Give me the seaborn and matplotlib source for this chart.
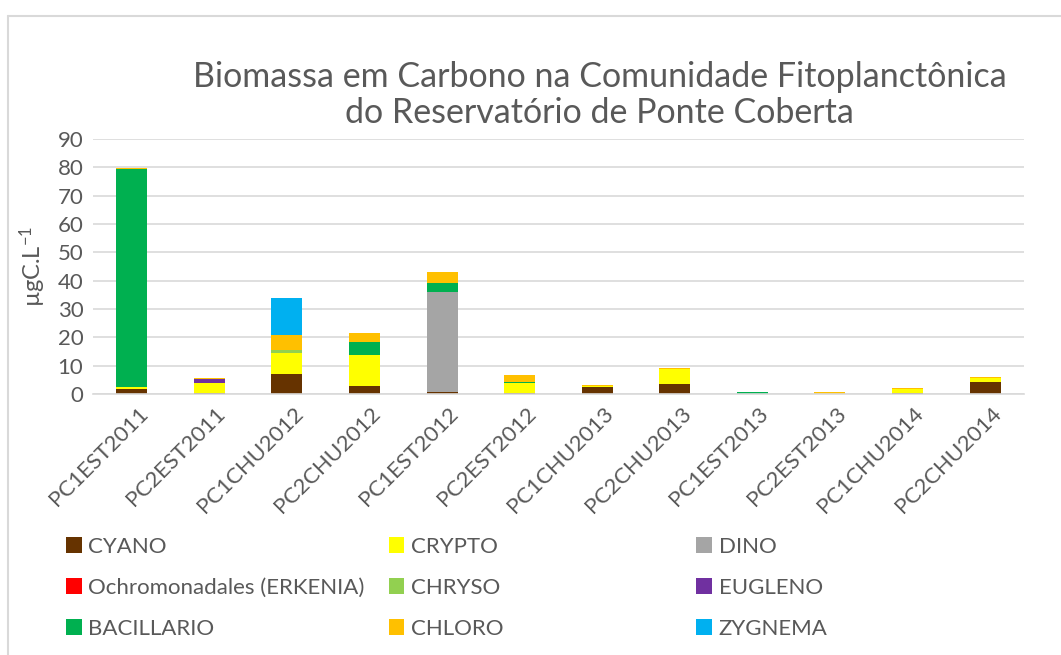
import numpy as np
import pandas as pd
import matplotlib
matplotlib.use("Agg")
import matplotlib.pyplot as plt
import matplotlib.transforms as mtransforms
import seaborn as sns
from matplotlib.patches import Patch
from matplotlib.lines import Line2D

samples = ["PC1EST2011", "PC2EST2011", "PC1CHU2012", "PC2CHU2012", "PC1EST2012", "PC2EST2012",
           "PC1CHU2013", "PC2CHU2013", "PC1EST2013", "PC2EST2013", "PC1CHU2014", "PC2CHU2014"]
groups = ["CYANO", "CRYPTO", "DINO", "Ochromonadales (ERKENIA)", "CHRYSO", "EUGLENO",
          "BACILLARIO", "CHLORO", "ZYGNEMA"]
colors = ["#663300", "#FFFF00", "#A5A5A5", "#FF0000", "#92D050", "#7030A0",
          "#00B050", "#FFC000", "#00B0F0"]

cyano = [1.7, 0.5, 7.2, 2.7, 0.8, 0.2, 2.6, 3.5, 0.0, 0.0, 0.5, 4.3]
crypto = [0.7, 3.3, 7.3, 11.0, 0.0, 3.6, 0.3, 5.3, 0.0, 0.0, 1.1, 1.4]
dino = [0.0, 0.0, 0.0, 0.0, 35.3, 0.0, 0.0, 0.0, 0.0, 0.0, 0.0, 0.0]
ochro = [0.0, 0.0, 0.0, 0.0, 0.0, 0.0, 0.0, 0.0, 0.0, 0.0, 0.0, 0.0]
chryso = [0.0, 0.0, 0.9, 0.0, 0.0, 0.0, 0.0, 0.0, 0.0, 0.0, 0.0, 0.0]
eugleno = [0.0, 1.5, 0.0, 0.0, 0.0, 0.0, 0.0, 0.0, 0.0, 0.0, 0.0, 0.0]
bacillario = [76.9, 0.0, 0.0, 4.7, 3.2, 0.6, 0.0, 0.0, 0.6, 0.0, 0.0, 0.0]
chloro = [0.3, 0.2, 5.3, 3.1, 3.6, 2.3, 0.4, 0.4, 0.1, 0.7, 0.5, 0.4]
zygnema = [0.0, 0.0, 13.1, 0.0, 0.0, 0.0, 0.0, 0.0, 0.0, 0.0, 0.0, 0.0]

series = [cyano, crypto, dino, ochro, chryso, eugleno, bacillario, chloro, zygnema]
rows = []
for g, vals in zip(groups, series):
    for s, v in zip(samples, vals):
        rows.append({"amostra": s, "grupo": g, "valor": v})
df = pd.DataFrame(rows)
df["amostra"] = pd.Categorical(df["amostra"], categories=samples, ordered=True)

sns.set_theme(style="white")
plt.rcParams["font.family"] = ["Lato", "DejaVu Sans"]
plt.rcParams["mathtext.default"] = "regular"
txt = "#595959"

fig = plt.figure(figsize=(10.61, 6.55), dpi=100)
ax = fig.add_axes([0.0877, 0.3985, 0.8773, 0.3893])

# histplot stacks the first hue level on top, so feed the order reversed
sns.histplot(data=df, x="amostra", weights="valor", hue="grupo", hue_order=groups[::-1],
             palette=colors[::-1], multiple="stack", discrete=True, shrink=0.4,
             linewidth=0, alpha=1, legend=False, ax=ax)

ax.set_ylim(0, 90)
ax.set_yticks(np.arange(0, 91, 10))
ax.set_xlim(-0.5, len(samples) - 0.5)
ax.set_xticks(range(len(samples)))
ax.set_xticklabels(samples, rotation=45, ha="right", rotation_mode="anchor")
ax.tick_params(axis="both", labelsize=16, colors=txt, length=0, pad=7)
shift = mtransforms.ScaledTranslation(6 / 100, 0, fig.dpi_scale_trans)
for lbl in ax.get_xticklabels():
    lbl.set_transform(lbl.get_transform() + shift)
ax.yaxis.grid(True, color="#D9D9D9", linewidth=1.2)
ax.set_axisbelow(True)
for side in ["top", "right", "left"]:
    ax.spines[side].set_visible(False)
ax.spines["bottom"].set_color("#D9D9D9")
ax.spines["bottom"].set_linewidth(1.2)
ax.set_xlabel("")
ax.set_ylabel("µgC.L$^{-1}$", fontsize=17, color=txt, labelpad=7)

fig.text(0.565, 0.855, "Biomassa em Carbono na Comunidade Fitoplanctônica\ndo Reservatório de Ponte Coberta",
         ha="center", va="center", fontsize=24.5, color=txt, linespacing=1.15)

# legend in three columns, row-major like the original
col_x = [0.054, 0.358, 0.648]
for c in range(3):
    idx = [c, c + 3, c + 6]
    handles = [Patch(facecolor=colors[i], edgecolor="none") for i in idx]
    fig.legend(handles, [groups[i] for i in idx], loc="upper left",
               bbox_to_anchor=(col_x[c], 0.194), frameon=False, fontsize=16,
               labelcolor=txt, handlelength=0.7, handleheight=0.7,
               handletextpad=0.3, labelspacing=0.95, borderaxespad=0)

# chart border (only left and top visible)
fig.add_artist(Line2D([8 / 1061, 8 / 1061], [0, 1 - 16 / 655], transform=fig.transFigure,
                      color="#D9D9D9", linewidth=1.5))
fig.add_artist(Line2D([8 / 1061, 1], [1 - 16 / 655, 1 - 16 / 655], transform=fig.transFigure,
                      color="#D9D9D9", linewidth=1.5))

fig.savefig("out.png", dpi=100, facecolor="white")
